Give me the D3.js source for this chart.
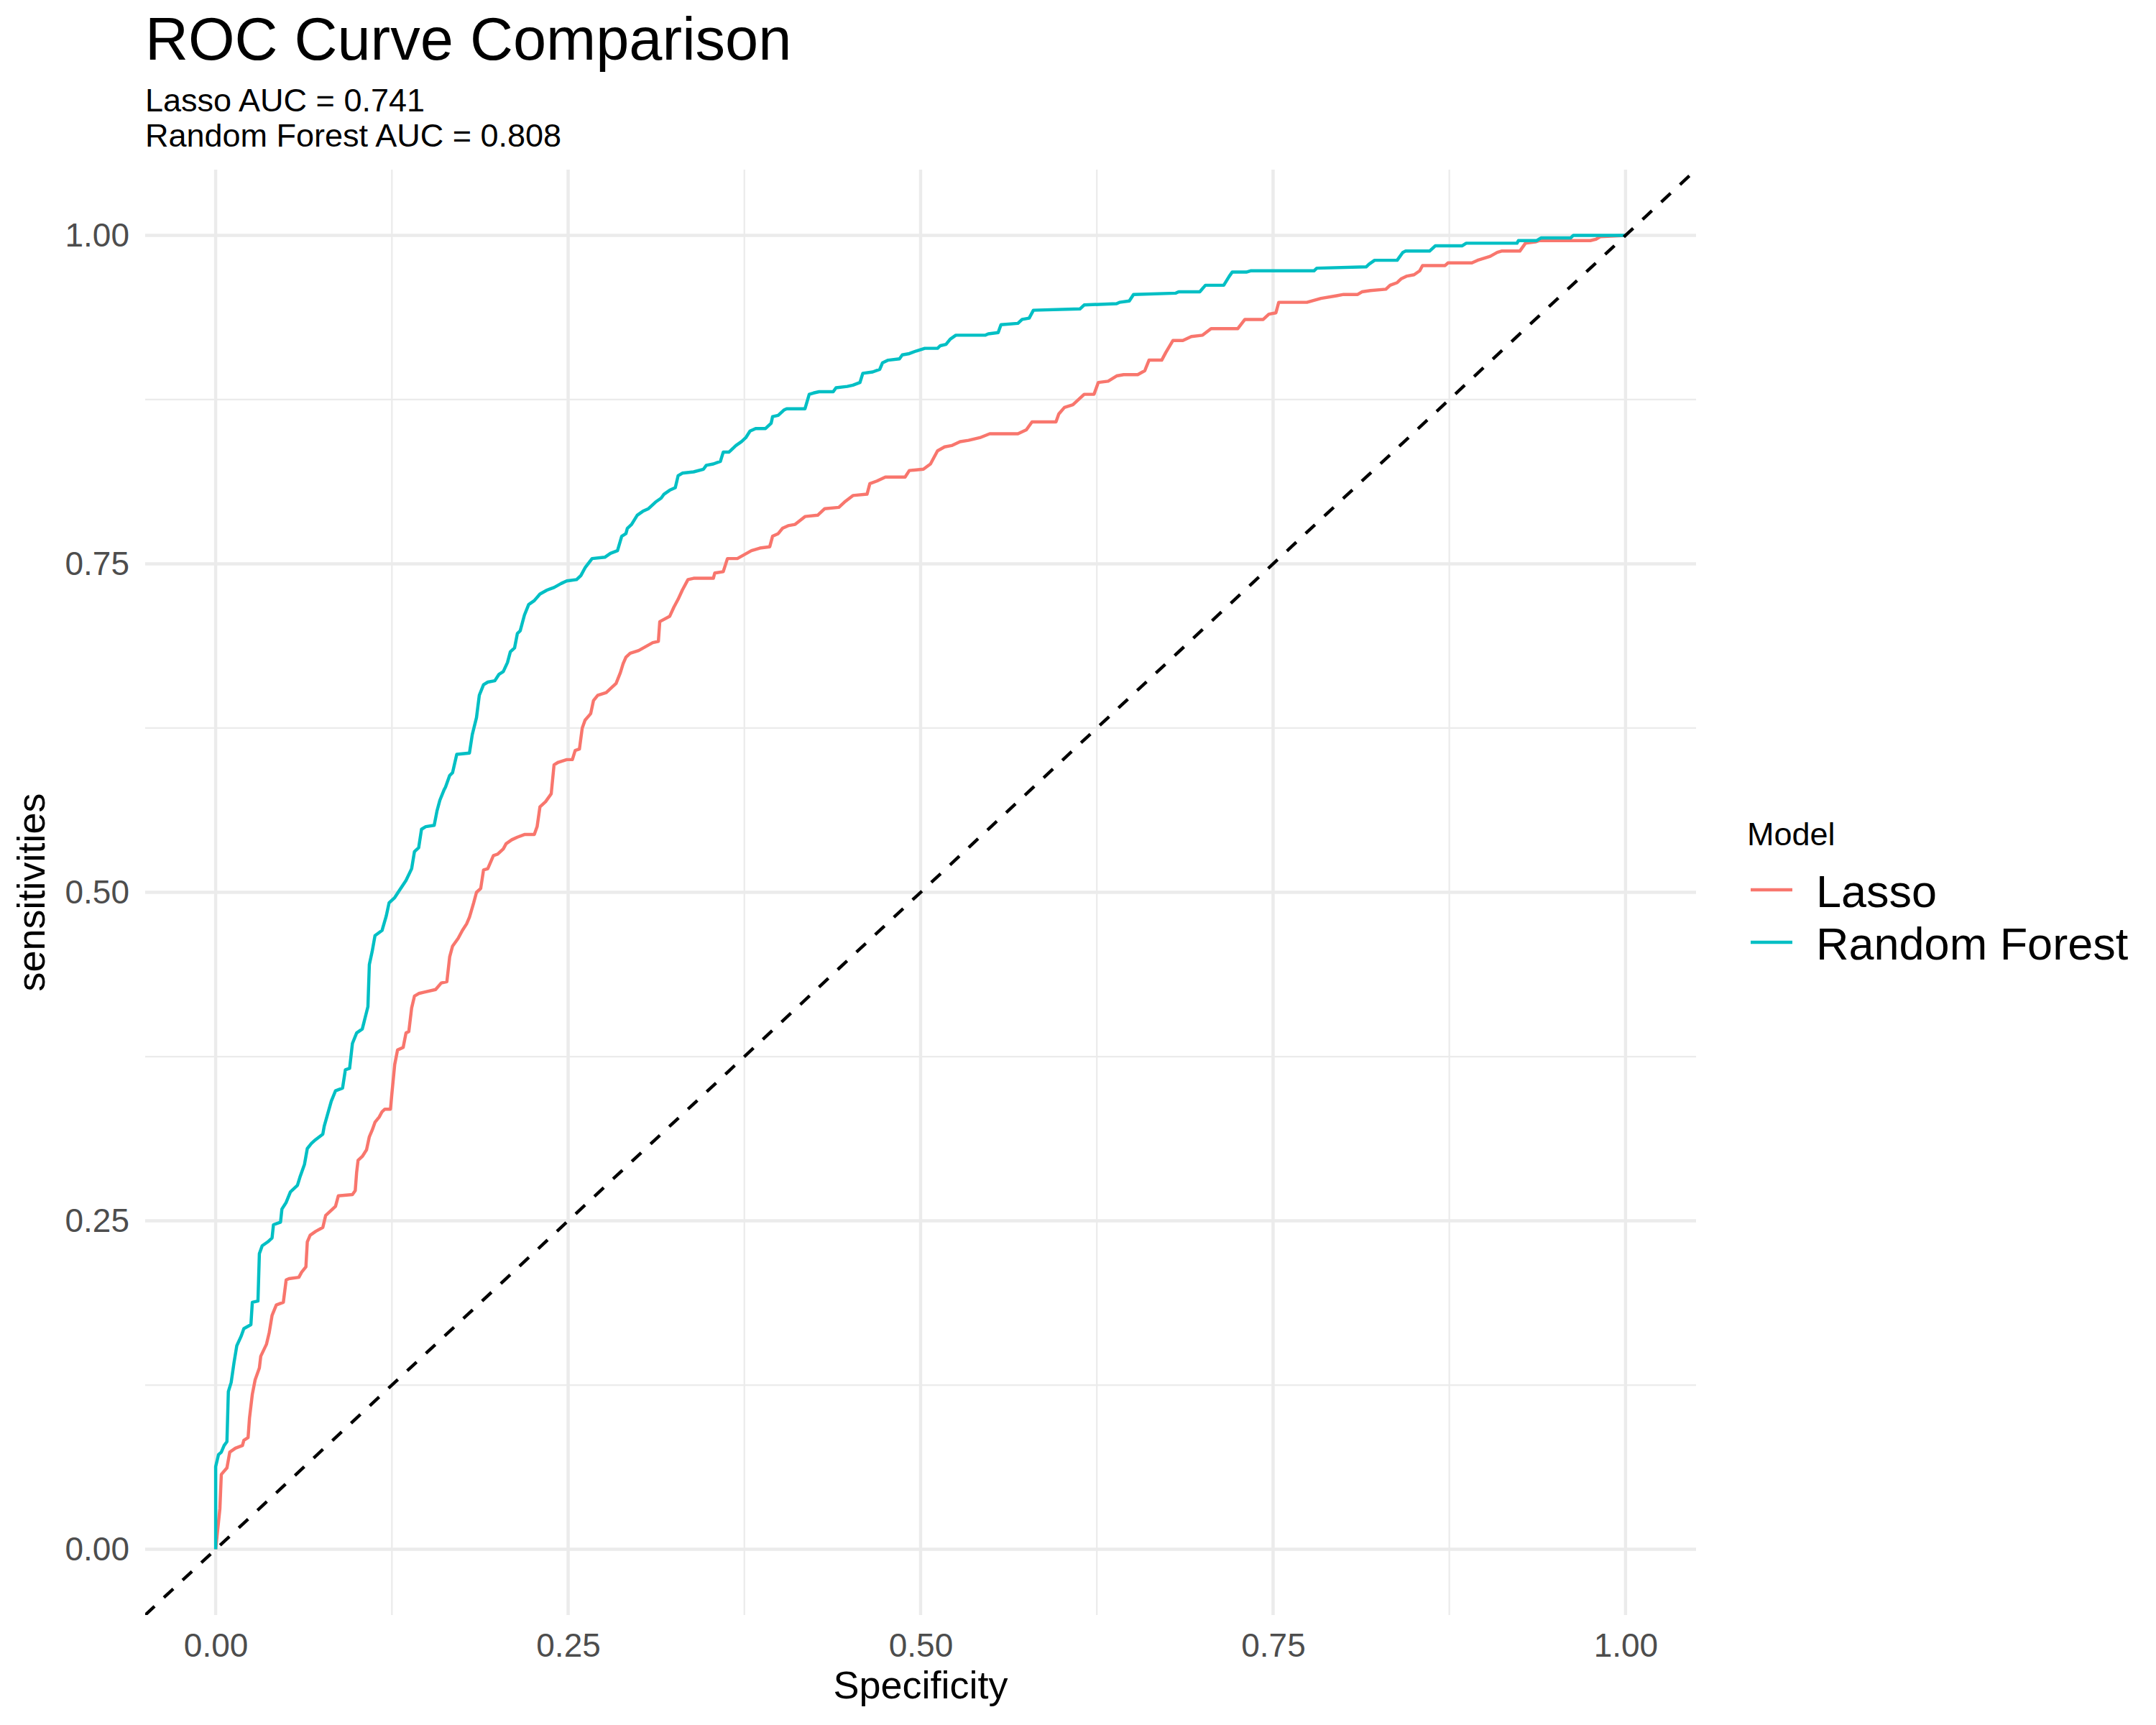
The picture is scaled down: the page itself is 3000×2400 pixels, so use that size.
<!DOCTYPE html>
<html>
<head>
<meta charset="utf-8">
<script src="https://cdn.jsdelivr.net/npm/d3@7"></script>
<style>
  body { margin: 0; background: #fff; }
  svg { display: block; font-family: "Liberation Sans", Arial, sans-serif; }
</style>
</head>
<body>
<svg id="chart"></svg>
<script>
// ROC points: [1 - specificity, sensitivity]
const lassoPoints = [
  [0,0],[0.003,0.031],[0.004,0.057],[0.008,0.062],[0.010,0.074],[0.014,0.077],[0.019,0.079],[0.020,0.083],
  [0.023,0.085],[0.024,0.100],[0.026,0.118],[0.028,0.129],[0.031,0.138],[0.032,0.147],[0.036,0.156],[0.038,0.165],
  [0.040,0.178],[0.043,0.186],[0.048,0.188],[0.050,0.205],[0.052,0.206],[0.059,0.207],[0.061,0.211],[0.064,0.215],
  [0.065,0.234],[0.067,0.239],[0.071,0.242],[0.076,0.245],[0.078,0.254],[0.082,0.258],[0.085,0.261],[0.087,0.269],
  [0.097,0.270],[0.099,0.273],[0.100,0.287],[0.101,0.296],[0.104,0.299],[0.107,0.304],[0.109,0.314],[0.111,0.319],
  [0.113,0.325],[0.116,0.329],[0.118,0.333],[0.120,0.335],[0.124,0.335],[0.125,0.347],[0.127,0.369],[0.129,0.380],
  [0.133,0.382],[0.135,0.393],[0.137,0.394],[0.139,0.412],[0.141,0.421],[0.144,0.423],[0.148,0.424],[0.156,0.426],
  [0.160,0.431],[0.164,0.432],[0.166,0.451],[0.168,0.459],[0.172,0.465],[0.175,0.471],[0.178,0.476],[0.180,0.481],
  [0.183,0.492],[0.185,0.500],[0.188,0.503],[0.190,0.517],[0.193,0.518],[0.197,0.528],[0.200,0.529],[0.204,0.533],
  [0.206,0.537],[0.210,0.540],[0.214,0.542],[0.219,0.544],[0.226,0.544],[0.228,0.550],[0.230,0.565],[0.234,0.569],
  [0.238,0.575],[0.240,0.597],[0.243,0.599],[0.249,0.601],[0.253,0.601],[0.255,0.608],[0.258,0.609],[0.260,0.625],
  [0.262,0.631],[0.266,0.636],[0.268,0.646],[0.271,0.650],[0.277,0.652],[0.280,0.655],[0.284,0.659],[0.287,0.667],
  [0.289,0.674],[0.291,0.679],[0.294,0.682],[0.300,0.684],[0.305,0.687],[0.310,0.690],[0.314,0.691],[0.315,0.706],
  [0.322,0.710],[0.325,0.717],[0.328,0.723],[0.331,0.730],[0.335,0.738],[0.339,0.739],[0.353,0.739],[0.354,0.743],
  [0.360,0.744],[0.363,0.754],[0.370,0.754],[0.375,0.757],[0.380,0.760],[0.386,0.762],[0.393,0.763],[0.395,0.771],
  [0.399,0.773],[0.402,0.777],[0.406,0.779],[0.411,0.780],[0.418,0.786],[0.427,0.787],[0.432,0.792],[0.442,0.793],
  [0.446,0.797],[0.452,0.802],[0.462,0.803],[0.464,0.811],[0.469,0.813],[0.475,0.816],[0.489,0.816],[0.492,0.821],
  [0.502,0.822],[0.507,0.826],[0.512,0.836],[0.517,0.839],[0.522,0.840],[0.528,0.843],[0.534,0.844],[0.542,0.846],
  [0.549,0.849],[0.569,0.849],[0.575,0.852],[0.579,0.858],[0.596,0.858],[0.598,0.864],[0.602,0.869],[0.608,0.871],
  [0.612,0.875],[0.616,0.879],[0.623,0.879],[0.626,0.888],[0.633,0.889],[0.639,0.893],[0.644,0.894],[0.654,0.894],
  [0.659,0.897],[0.662,0.905],[0.671,0.905],[0.674,0.911],[0.679,0.920],[0.686,0.920],[0.692,0.923],[0.700,0.924],
  [0.706,0.929],[0.725,0.929],[0.730,0.936],[0.743,0.936],[0.747,0.940],[0.752,0.941],[0.754,0.949],[0.774,0.949],
  [0.784,0.952],[0.795,0.954],[0.800,0.955],[0.810,0.955],[0.813,0.957],[0.819,0.958],[0.830,0.959],[0.833,0.962],
  [0.838,0.964],[0.841,0.967],[0.845,0.969],[0.850,0.970],[0.854,0.973],[0.856,0.977],[0.872,0.977],[0.874,0.979],
  [0.891,0.979],[0.895,0.981],[0.904,0.984],[0.909,0.987],[0.912,0.988],[0.925,0.988],[0.929,0.994],[0.936,0.995],
  [0.939,0.996],[0.975,0.996],[0.979,0.997],[0.982,0.999],[1,1]
];

const rfPoints = [
  [0,0],[0,0.063],[0.002,0.072],[0.004,0.074],[0.006,0.079],[0.008,0.082],[0.009,0.120],[0.011,0.127],
  [0.013,0.142],[0.015,0.155],[0.018,0.162],[0.020,0.168],[0.025,0.171],[0.026,0.188],[0.030,0.189],[0.031,0.225],
  [0.033,0.231],[0.037,0.234],[0.040,0.237],[0.041,0.247],[0.046,0.249],[0.047,0.259],[0.050,0.264],[0.053,0.272],
  [0.058,0.277],[0.060,0.284],[0.063,0.293],[0.065,0.305],[0.068,0.309],[0.070,0.311],[0.076,0.316],[0.077,0.322],
  [0.082,0.341],[0.085,0.349],[0.090,0.351],[0.092,0.365],[0.095,0.366],[0.097,0.385],[0.100,0.393],[0.104,0.396],
  [0.108,0.413],[0.109,0.445],[0.111,0.455],[0.113,0.467],[0.118,0.471],[0.121,0.482],[0.123,0.492],[0.127,0.496],
  [0.130,0.501],[0.135,0.509],[0.139,0.518],[0.141,0.531],[0.144,0.534],[0.146,0.548],[0.149,0.550],[0.155,0.551],
  [0.157,0.562],[0.159,0.570],[0.162,0.578],[0.163,0.580],[0.166,0.589],[0.168,0.591],[0.171,0.605],[0.180,0.606],
  [0.182,0.620],[0.185,0.633],[0.187,0.650],[0.190,0.658],[0.193,0.660],[0.198,0.661],[0.201,0.666],[0.204,0.668],
  [0.207,0.675],[0.209,0.683],[0.212,0.686],[0.214,0.697],[0.216,0.699],[0.219,0.711],[0.222,0.719],[0.226,0.722],
  [0.230,0.727],[0.235,0.730],[0.240,0.732],[0.245,0.735],[0.249,0.737],[0.256,0.738],[0.259,0.741],[0.262,0.747],
  [0.267,0.754],[0.276,0.755],[0.280,0.758],[0.285,0.760],[0.288,0.771],[0.291,0.773],[0.292,0.777],[0.295,0.780],
  [0.299,0.787],[0.303,0.790],[0.307,0.792],[0.312,0.797],[0.316,0.800],[0.318,0.803],[0.322,0.806],[0.326,0.808],
  [0.328,0.817],[0.331,0.819],[0.339,0.820],[0.346,0.822],[0.348,0.825],[0.353,0.826],[0.358,0.828],[0.360,0.835],
  [0.364,0.835],[0.367,0.838],[0.369,0.840],[0.373,0.843],[0.376,0.846],[0.379,0.851],[0.383,0.853],[0.390,0.853],
  [0.394,0.857],[0.395,0.862],[0.399,0.863],[0.403,0.867],[0.405,0.868],[0.418,0.868],[0.421,0.879],[0.424,0.880],
  [0.428,0.881],[0.438,0.881],[0.440,0.884],[0.448,0.885],[0.452,0.886],[0.457,0.888],[0.459,0.895],[0.466,0.896],
  [0.471,0.898],[0.473,0.903],[0.477,0.905],[0.485,0.906],[0.487,0.909],[0.492,0.910],[0.497,0.912],[0.503,0.914],
  [0.512,0.914],[0.514,0.916],[0.518,0.917],[0.521,0.921],[0.525,0.924],[0.546,0.924],[0.548,0.925],[0.555,0.926],
  [0.557,0.932],[0.569,0.933],[0.572,0.936],[0.577,0.937],[0.580,0.943],[0.613,0.944],[0.616,0.947],[0.639,0.948],
  [0.641,0.949],[0.648,0.950],[0.651,0.955],[0.681,0.956],[0.683,0.957],[0.698,0.957],[0.702,0.962],[0.715,0.962],
  [0.719,0.969],[0.721,0.972],[0.731,0.972],[0.734,0.973],[0.779,0.973],[0.781,0.975],[0.816,0.976],[0.818,0.978],
  [0.822,0.981],[0.838,0.981],[0.842,0.987],[0.844,0.988],[0.861,0.988],[0.865,0.992],[0.884,0.992],[0.887,0.994],
  [0.923,0.994],[0.924,0.996],[0.937,0.996],[0.940,0.998],[0.961,0.998],[0.963,1],[1,1]
];

const models = ["Lasso", "Random Forest"];
const modelColors = ["#F8766D", "#00BFC4"];
const aucValues = [0.741, 0.808];
const majorTicks = [0, 0.25, 0.5, 0.75, 1];
const minorTicks = [0.125, 0.375, 0.625, 0.875];

const width = 3000, height = 2400;
const panel = {left: 202, right: 2360, top: 236, bottom: 2247};
const lineW = 4.45;

const svg = d3.select("#chart").attr("width", width).attr("height", height);
svg.append("rect").attr("width", width).attr("height", height).attr("fill", "#fff");

// ggplot default expansion: 5% each side
const x = d3.scaleLinear().domain([-0.05, 1.05]).range([panel.left, panel.right]);
const y = d3.scaleLinear().domain([-0.05, 1.05]).range([panel.bottom, panel.top]);

svg.append("defs").append("clipPath").attr("id", "panelClip")
   .append("rect")
   .attr("x", panel.left).attr("y", panel.top)
   .attr("width", panel.right - panel.left).attr("height", panel.bottom - panel.top);

const grid = svg.append("g");
grid.selectAll(".minor-v").data(minorTicks).enter().append("line")
    .attr("x1", d => x(d)).attr("x2", d => x(d))
    .attr("y1", panel.top).attr("y2", panel.bottom)
    .attr("stroke", "#EBEBEB").attr("stroke-width", lineW / 2);
grid.selectAll(".minor-h").data(minorTicks).enter().append("line")
    .attr("y1", d => y(d)).attr("y2", d => y(d))
    .attr("x1", panel.left).attr("x2", panel.right)
    .attr("stroke", "#EBEBEB").attr("stroke-width", lineW / 2);
grid.selectAll(".major-v").data(majorTicks).enter().append("line")
    .attr("x1", d => x(d)).attr("x2", d => x(d))
    .attr("y1", panel.top).attr("y2", panel.bottom)
    .attr("stroke", "#EBEBEB").attr("stroke-width", lineW);
grid.selectAll(".major-h").data(majorTicks).enter().append("line")
    .attr("y1", d => y(d)).attr("y2", d => y(d))
    .attr("x1", panel.left).attr("x2", panel.right)
    .attr("stroke", "#EBEBEB").attr("stroke-width", lineW);

const line = d3.line().x(d => x(d[0])).y(d => y(d[1]));
const plotArea = svg.append("g").attr("clip-path", "url(#panelClip)");

[lassoPoints, rfPoints].forEach((pts, i) => {
  plotArea.append("path")
    .datum(pts)
    .attr("d", line)
    .attr("fill", "none")
    .attr("stroke", modelColors[i])
    .attr("stroke-width", lineW)
    .attr("stroke-linejoin", "round");
});

// reference diagonal across the whole panel
plotArea.append("path")
  .datum([[-0.05, -0.05], [1.05, 1.05]])
  .attr("d", line)
  .attr("fill", "none")
  .attr("stroke", "#000")
  .attr("stroke-width", lineW)
  .attr("stroke-dasharray", "17.8,17.8");

// axes
const fmt = d3.format(".2f");
const xAxis = svg.append("g")
  .attr("transform", `translate(0,${panel.bottom})`)
  .call(d3.axisBottom(x).tickValues(majorTicks).tickFormat(fmt).tickSize(0).tickPadding(25));
const yAxis = svg.append("g")
  .attr("transform", `translate(${panel.left},0)`)
  .call(d3.axisLeft(y).tickValues(majorTicks).tickFormat(fmt).tickSize(0).tickPadding(22));
[xAxis, yAxis].forEach(g => {
  g.select(".domain").remove();
  g.selectAll("text")
   .attr("font-size", 46)
   .attr("font-family", "Liberation Sans, Arial, sans-serif")
   .attr("fill", "#4D4D4D");
});

svg.append("text")
   .attr("x", (panel.left + panel.right) / 2).attr("y", 2363)
   .attr("text-anchor", "middle").attr("font-size", 54)
   .text("Specificity");
svg.append("text")
   .attr("transform", `translate(62,${(panel.top + panel.bottom) / 2}) rotate(-90)`)
   .attr("text-anchor", "middle").attr("font-size", 54)
   .text("sensitivities");

// titles
svg.append("text")
   .attr("x", panel.left).attr("y", 83)
   .attr("font-size", 83)
   .text("ROC Curve Comparison");
svg.selectAll(".subtitle")
   .data(models).enter()
   .append("text")
   .attr("class", "subtitle")
   .attr("x", panel.left)
   .attr("y", (d, i) => 155 + i * 49)
   .attr("font-size", 45)
   .text((d, i) => `${d} AUC = ${d3.format(".3f")(aucValues[i])}`);

// legend
const legend = svg.append("g").attr("transform", "translate(2431,1176)");
legend.append("text").attr("x", 0).attr("y", 0).attr("font-size", 45).text("Model");
const items = legend.selectAll(".item")
  .data(models).enter()
  .append("g")
  .attr("class", "item")
  .attr("transform", (d, i) => `translate(0,${62 + i * 73})`);
items.append("line")
  .attr("x1", 5).attr("x2", 63)
  .attr("y1", 0).attr("y2", 0)
  .attr("stroke", (d, i) => modelColors[i])
  .attr("stroke-width", lineW);
items.append("text")
  .attr("x", 96).attr("y", 24)
  .attr("font-size", 63)
  .text(d => d);
</script>
</body>
</html>
